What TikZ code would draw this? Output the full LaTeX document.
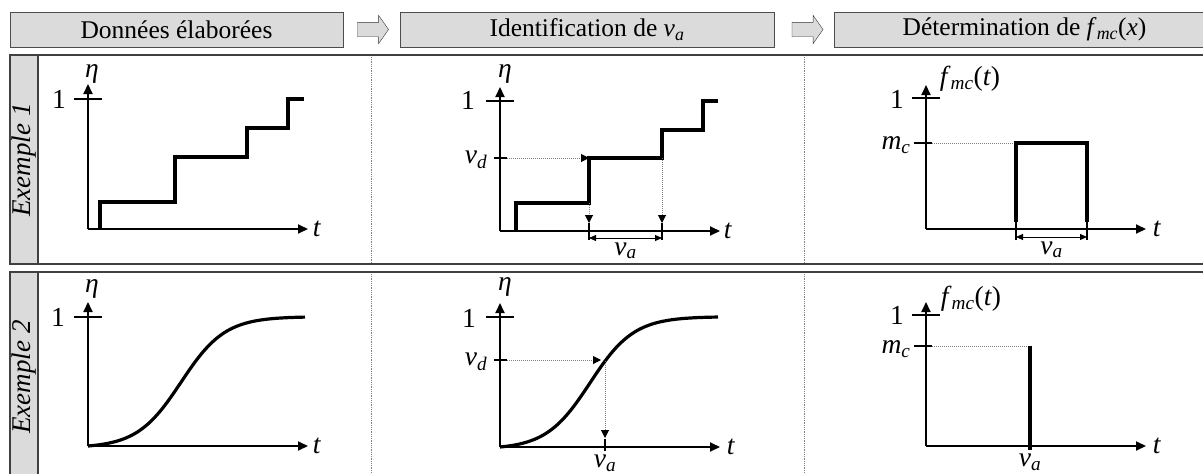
\documentclass[tikz,border=0pt]{standalone}
\usepackage{fontspec}
\setmainfont{Liberation Serif}
\usetikzlibrary{arrows.meta, shapes.arrows}

\newcommand{\symb}[2]{\textit{#1}\textsubscript{\textit{#2}}}

\begin{document}
\begin{tikzpicture}[
    x=1pt, y=-1pt,
    >={Triangle[length=10pt, width=9pt]},
    % Style definitions
    head box/.style={draw=black!70, thick, fill=gray!28, minimum height=35pt, inner sep=0pt, font=\fontsize{25.5}{28}\selectfont},
    flow arrow/.style={single arrow, draw=black!80, fill=gray!28, minimum height=31pt, inner sep=7pt, single arrow head extend=7pt, single arrow tip angle=110},
    row frame/.style={draw=black!75, line width=1.5pt},
    side band/.style={fill=gray!28, draw=black!75, line width=1.2pt},
    band text/.style={rotate=90, font=\fontsize{27}{30}\selectfont\itshape},
    separator/.style={draw=gray, densely dotted, line width=0.8pt},
    % Plot styles
    axis/.style={line width=2pt, ->},
    trace/.style={line width=3.2pt},
    tickline/.style={line width=1.5pt},
    guide/.style={gray, densely dotted, line width=1pt},
    guide arrow/.style={guide, -{Triangle[length=8pt, width=8pt, black]}},
    span arrow/.style={line width=1pt, {Triangle[length=7pt, width=6pt]}-{Triangle[length=7pt, width=6pt]}},
    axis text/.style={font=\fontsize{27.5}{30}\selectfont, inner sep=0pt}
]
\useasboundingbox (0,0) rectangle (1203,474);

% ==========================================
% 1. HEADER
% ==========================================
\node[head box, minimum width=333pt] (hd1) at (176.5,29.5) {Données élaborées};
\node[head box, minimum width=374pt] (hd2) at (587,29.5) {Identification de \symb{v}{a}};
\node[head box, minimum width=381pt] (hd3) at (1024.5,29.5) {Détermination de \symb{f}{mc}(\textit{x})};
\node[flow arrow] (ar1) at (370.5,29.5) {};
\node[flow arrow] (ar2) at (805,29.5) {};

% ==========================================
% 2. ROW FRAMES
% ==========================================
\draw[row frame] (10,55) rectangle (1215,264);
\draw[side band] (10,55) rectangle (38,264);
\node[band text] (ex1) at (24,160) {Exemple 1};

\draw[row frame] (10,272) rectangle (1215,490);
\draw[side band] (10,272) rectangle (38,490);
\node[band text] (ex2) at (24,377) {Exemple 2};

% Dotted column separators
\draw[separator] (371,57) -- (371,263);
\draw[separator] (804,57) -- (804,263);
\draw[separator] (371,274) -- (371,474);
\draw[separator] (804,274) -- (804,474);

% ==========================================
% 3. EXEMPLE 1
% ==========================================

% Raw data
\begin{scope}[shift={(88,229)}, yscale=-1]
    \draw[axis] (0,0) -- (0,145);
    \draw[axis] (0,0) -- (220,0);
    \draw[tickline] (-14,130) -- (14,130);
    \node[axis text] (one11) at (-29,130) {1};
    \node[axis text] (eta11) at (4,155) {\textit{η}};
    \node[axis text] (t11) at (229,0) {\textit{t}};
    \draw[trace] (12,0) |- (87,27) |- (159,72) |- (200,101) |- (216,130);
\end{scope}

% Identification
\begin{scope}[shift={(500,231)}, yscale=-1]
    \draw[axis] (0,0) -- (0,144);
    \draw[axis] (0,0) -- (220,0);
    \draw[tickline] (-14,130) -- (14,130);
    \draw[tickline] (-6,73) -- (7,73);
    \node[axis text] (one12) at (-32,131) {1};
    \node[axis text] (vd12) at (-24,71) {\symb{v}{d}};
    \node[axis text] (eta12) at (5,157) {\textit{η}};
    \node[axis text] (t12) at (228,0) {\textit{t}};
    \draw[trace] (16,0) |- (89,28) |- (162,73) |- (203,101) |- (218,130);
    % guides
    \draw[guide arrow] (7,73) -- (89,73);
    \draw[guide arrow] (89,28) -- (89,8);
    \draw[guide arrow] (162,73) -- (162,8);
    \draw[tickline] (89,8) -- (89,-9);
    \draw[tickline] (162,8) -- (162,-9);
    \draw[span arrow] (89,-7) -- node[axis text, below=4pt] (va12) {\symb{v}{a}} (162,-7);
\end{scope}

% Mass function
\begin{scope}[shift={(926,229)}, yscale=-1]
    \draw[axis] (0,0) -- (0,144);
    \draw[axis] (0,0) -- (220,0);
    \draw[tickline] (-14,131) -- (14,131);
    \draw[tickline] (-12,86) -- (6,86);
    \node[axis text] (one13) at (-29,130) {1};
    \node[axis text] (mc13) at (-30,84) {\symb{m}{c}};
    \node[axis text] (fmc13) at (44,150) {\symb{f}{mc}(\textit{t})};
    \node[axis text] (t13) at (231,0) {\textit{t}};
    \draw[guide] (6,86) -- (90,86);
    \draw[trace] (90,7) |- (161,86) -- (161,7);
    \draw[tickline] (90,7) -- (90,-11);
    \draw[tickline] (161,7) -- (161,-11);
    \draw[span arrow] (90,-8) -- node[axis text, below=4pt] (va13) {\symb{v}{a}} (161,-8);
\end{scope}

% ==========================================
% 4. EXEMPLE 2
% ==========================================

% Raw data
\begin{scope}[shift={(88,446)}, yscale=-1]
    \draw[axis] (0,0) -- (0,144);
    \draw[axis] (0,0) -- (220,0);
    \draw[tickline] (-14,129) -- (14,129);
    \node[axis text] (one21) at (-30,129) {1};
    \node[axis text] (eta21) at (4,157) {\textit{η}};
    \node[axis text] (t21) at (229,0) {\textit{t}};
    \draw[trace] plot[domain=0:217, samples=80, smooth]
        (\x, {129*(1/(1+exp(-(\x-93)/22)) - 0.0144)/0.9826});
\end{scope}

% Identification
\begin{scope}[shift={(500,447)}, yscale=-1]
    \draw[axis] (0,0) -- (0,144);
    \draw[axis] (0,0) -- (220,0);
    \draw[tickline] (-14,130) -- (14,130);
    \draw[tickline] (-6,87) -- (7,87);
    \node[axis text] (one22) at (-31,129) {1};
    \node[axis text] (vd22) at (-24,85) {\symb{v}{d}};
    \node[axis text] (eta22) at (5,160) {\textit{η}};
    \node[axis text] (t22) at (231,0) {\textit{t}};
    \draw[trace] plot[domain=0:218, samples=80, smooth]
        (\x, {130*(1/(1+exp(-(\x-90)/22)) - 0.0165)/0.9805});
    \coordinate (cross22) at (105,86);
    \draw[guide arrow] (7,87) -- (101,87);
    \draw[guide arrow] (cross22) -- (105,9);
    \draw[tickline] (105,8) -- (105,-4);
    \node[axis text] (va22) at (105,-16) {\symb{v}{a}};
\end{scope}

% Mass function
\begin{scope}[shift={(926,446)}, yscale=-1]
    \draw[axis] (0,0) -- (0,144);
    \draw[axis] (0,0) -- (220,0);
    \draw[tickline] (-14,131) -- (14,131);
    \draw[tickline] (-12,100) -- (6,100);
    \node[axis text] (one23) at (-29,131) {1};
    \node[axis text] (mc23) at (-30,97) {\symb{m}{c}};
    \node[axis text] (fmc23) at (45,147) {\symb{f}{mc}(\textit{t})};
    \node[axis text] (t23) at (231,0) {\textit{t}};
    \draw[guide] (6,100) -- (104,100);
    \draw[trace] (104,100) -- (104,-4);
    \node[axis text] (va23) at (104,-16) {\symb{v}{a}};
\end{scope}

\end{tikzpicture}
\end{document}
